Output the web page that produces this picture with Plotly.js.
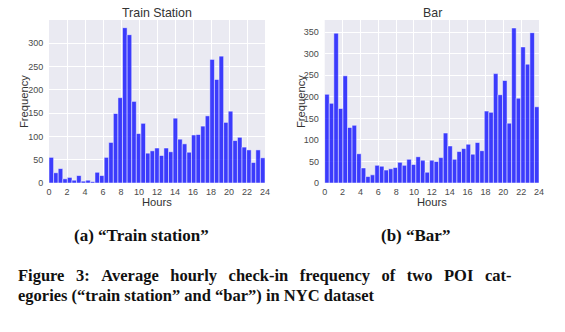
<!DOCTYPE html>
<html>
<head>
<meta charset="utf-8">
<script src="https://cdn.plot.ly/plotly-3.0.1.min.js"></script>
<style>
  html, body { margin: 0; padding: 0; background: #ffffff; }
  #chart { width: 565px; height: 332px; }
</style>
</head>
<body>
<div id="chart"></div>
<script>
// ---- data (counts per histogram bin, 47 equal bins spanning 0–24 h) ----
const trainStationCounts = [55, 22, 31, 9, 12, 6, 16, 4, 6, 3, 23, 16, 55, 87, 149, 183, 333, 318, 175, 106, 128, 64,
  69, 75, 59, 75, 67, 139, 94, 84, 66, 103, 104, 122, 144, 265, 222, 272, 130, 154, 91, 98, 77, 71, 44, 71, 54];
const barCounts = [206, 185, 348, 173, 249, 129, 134, 68, 35, 15, 19, 41, 39, 30, 33, 36, 48, 41, 55, 43, 61, 53,
  25, 53, 50, 59, 116, 86, 55, 73, 80, 90, 67, 94, 75, 167, 164, 254, 205, 238, 139, 360, 197, 316, 276, 349, 177];
const hourRange = [0, 24];
const xTickVals = [0, 2, 4, 6, 8, 10, 12, 14, 16, 18, 20, 22, 24];
const yTickValsTrain = [0, 50, 100, 150, 200, 250, 300];
const yTickValsBar = [0, 50, 100, 150, 200, 250, 300, 350];
const panelTitles = ["Train Station", "Bar"];
const axisTitleX = "Hours";
const axisTitleY = "Frequency";
const subCaptions = ["(a) \u201CTrain station\u201D", "(b) \u201CBar\u201D"];
const figureCaption = [
  "Figure 3: Average hourly check-in frequency of two POI cat-",
  "egories (\u201Ctrain station\u201D and \u201Cbar\u201D) in NYC dataset"
];

// ---- helpers ----
const W = 565, H = 332;
const px = v => v / W;
const py = v => 1 - v / H;

function binCenters(counts) {
  const w = (hourRange[1] - hourRange[0]) / counts.length;
  return counts.map((_, i) => hourRange[0] + (i + 0.5) * w);
}
function binWidth(counts) {
  return (hourRange[1] - hourRange[0]) / counts.length;
}
// first caption line is justified in the original: widen its inter-word gaps
function justified(line) {
  return line.split(" ").join("\u2002\u2009");
}

const barStyle = {
  color: "rgba(0,0,255,0.75)",
  line: { color: "rgba(255,255,255,0.7)", width: 0.7 }
};

const traces = [
  {
    type: "bar", x: binCenters(trainStationCounts), y: trainStationCounts,
    width: binWidth(trainStationCounts), marker: barStyle,
    xaxis: "x", yaxis: "y", hoverinfo: "x+y", showlegend: false
  },
  {
    type: "bar", x: binCenters(barCounts), y: barCounts,
    width: binWidth(barCounts), marker: barStyle,
    xaxis: "x2", yaxis: "y2", hoverinfo: "x+y", showlegend: false
  }
];

const tickFont = { family: "Liberation Sans, Arial, sans-serif", size: 9, color: "#4a4a4a" };
const axisCommon = {
  showline: false, zeroline: false, showgrid: true,
  gridcolor: "#ffffff", gridwidth: 1,
  ticks: "outside", tickcolor: "rgba(0,0,0,0)", tickfont: tickFont,
  fixedrange: true
};

const plotTop = 20, plotBottom = 183;
const leftX = [49, 265], rightX = [324.7, 539];

const labelFont = { family: "Liberation Sans, Arial, sans-serif", size: 11.2, color: "#333333" };
const titleFont = { family: "Liberation Sans, Arial, sans-serif", size: 12.4, color: "#333333" };
const capFont = { family: "Liberation Serif, Times New Roman, serif", size: 17, color: "#111111" };
const figFont = { family: "Liberation Serif, Times New Roman, serif", size: 16.5, color: "#111111" };

function ann(text, x, y, font, opts) {
  return Object.assign({
    text: "<b>" + text + "</b>", x: px(x), y: py(y), xref: "paper", yref: "paper",
    showarrow: false, xanchor: "center", yanchor: "middle", font: font
  }, opts || {});
}
function plainAnn(text, x, y, font, opts) {
  return Object.assign({
    text: text, x: px(x), y: py(y), xref: "paper", yref: "paper",
    showarrow: false, xanchor: "center", yanchor: "middle", font: font
  }, opts || {});
}

const layout = {
  width: W, height: H,
  margin: { l: 0, r: 0, t: 0, b: 0 },
  paper_bgcolor: "#ffffff",
  plot_bgcolor: "#EAEAF2",
  bargap: 0,
  font: { family: "Liberation Sans, Arial, sans-serif" },
  xaxis: Object.assign({}, axisCommon, {
    domain: [px(leftX[0]), px(leftX[1])], range: hourRange,
    tickvals: xTickVals, ticklen: 0, anchor: "y"
  }),
  yaxis: Object.assign({}, axisCommon, {
    domain: [py(plotBottom), py(plotTop)], range: [0, 349.5],
    tickvals: yTickValsTrain, ticklen: 3, anchor: "x"
  }),
  xaxis2: Object.assign({}, axisCommon, {
    domain: [px(rightX[0]), px(rightX[1])], range: hourRange,
    tickvals: xTickVals, ticklen: 0, anchor: "y2"
  }),
  yaxis2: Object.assign({}, axisCommon, {
    domain: [py(plotBottom), py(plotTop)], range: [0, 378.5],
    tickvals: yTickValsBar, ticklen: 3, anchor: "x2"
  }),
  annotations: [
    plainAnn(panelTitles[0], 157, 13, titleFont),
    plainAnn(panelTitles[1], 432, 13, titleFont),
    plainAnn(axisTitleX, 157, 201.5, labelFont),
    plainAnn(axisTitleX, 432, 201.5, labelFont),
    plainAnn(axisTitleY, 23.5, 101.5, labelFont, { textangle: -90 }),
    plainAnn(axisTitleY, 300.5, 101.5, labelFont, { textangle: -90 }),
    ann(subCaptions[0], 141, 235.5, capFont),
    ann(subCaptions[1], 415, 235.5, capFont),
    ann(justified(figureCaption[0]), 16, 275.8, figFont, { xanchor: "left", align: "left" }),
    ann(figureCaption[1], 16, 295.8, figFont, { xanchor: "left", align: "left" })
  ]
};

Plotly.newPlot("chart", traces, layout, { displayModeBar: false, staticPlot: true });
</script>
</body>
</html>
